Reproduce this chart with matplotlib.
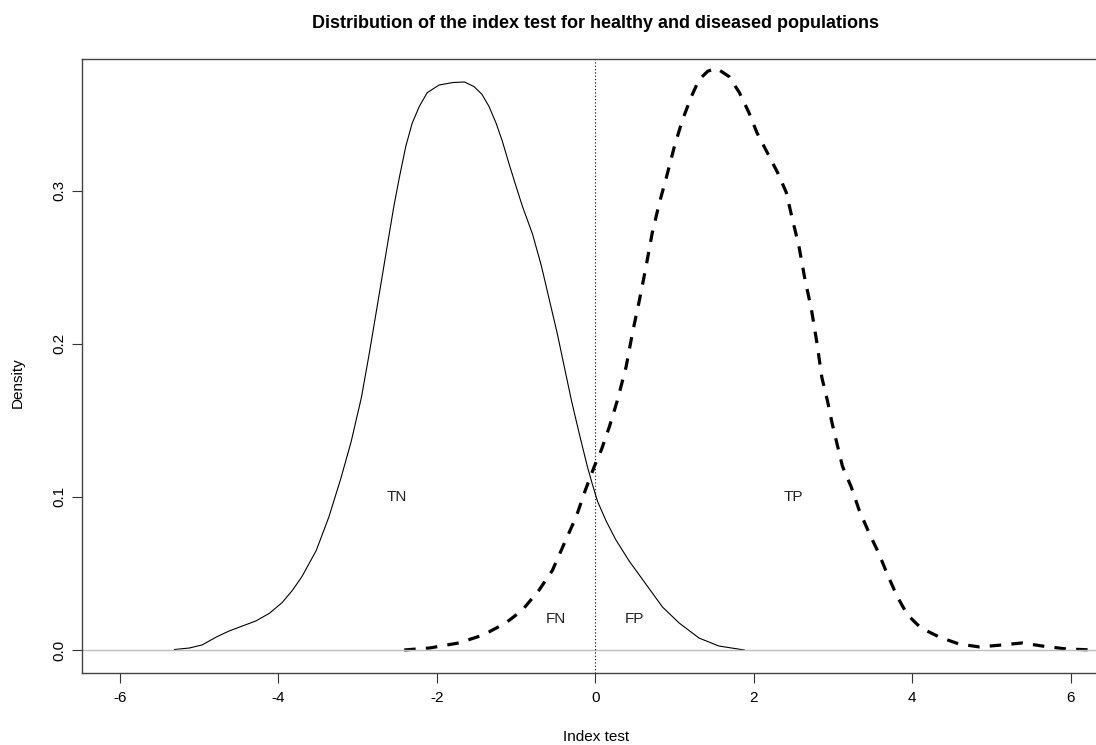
import matplotlib
matplotlib.use('Agg')
import matplotlib.pyplot as plt

plt.rcParams['font.family'] = ['Liberation Sans', 'DejaVu Sans']

# healthy population density (solid)
healthy_x = [-5.31, -5.12, -4.96, -4.78, -4.62, -4.45, -4.28, -4.11, -3.95, -3.82,
             -3.70, -3.52, -3.36, -3.21, -3.08, -2.95, -2.85, -2.73, -2.60, -2.54,
             -2.47, -2.39, -2.31, -2.22, -2.12, -1.97, -1.80, -1.65, -1.53, -1.43,
             -1.34, -1.25, -1.17, -1.09, -1.00, -0.92, -0.79, -0.68, -0.58, -0.48,
             -0.39, -0.30, -0.20, -0.10, -0.04, 0.03, 0.14, 0.26, 0.43, 0.64,
             0.85, 1.06, 1.31, 1.56, 1.88]
healthy_y = [0.0003, 0.0013, 0.0033, 0.0085, 0.0124, 0.0157, 0.019, 0.024, 0.031, 0.039,
             0.048, 0.065, 0.087, 0.112, 0.136, 0.165, 0.194, 0.231, 0.2715, 0.290,
             0.309, 0.329, 0.344, 0.355, 0.364, 0.369, 0.3706, 0.371, 0.368, 0.363,
             0.355, 0.344, 0.332, 0.318, 0.303, 0.290, 0.2715, 0.251, 0.229, 0.207,
             0.185, 0.163, 0.141, 0.120, 0.109, 0.097, 0.084, 0.072, 0.058, 0.043,
             0.028, 0.0176, 0.0078, 0.0026, 0.0]

# diseased population density (dashed)
diseased_x = [-2.41, -2.09, -1.72, -1.46, -1.34, -1.13, -0.92, -0.71, -0.54, -0.37,
              -0.24, -0.12, -0.01, 0.08, 0.18, 0.28, 0.39, 0.47, 0.56, 0.64,
              0.72, 0.81, 0.90, 1.00, 1.10, 1.21, 1.31, 1.42, 1.53, 1.69,
              1.82, 1.94, 2.04, 2.17, 2.30, 2.41, 2.49, 2.57, 2.64, 2.73,
              2.80, 2.86, 2.93, 2.99, 3.05, 3.12, 3.23, 3.33, 3.46, 3.58,
              3.69, 3.81, 3.94, 4.11, 4.34, 4.59, 4.85, 5.14, 5.39, 5.64,
              5.94, 6.23, 6.45]
diseased_y = [0.0, 0.0013, 0.0046, 0.009, 0.0118, 0.0176, 0.026, 0.039, 0.052, 0.072,
              0.087, 0.105, 0.120, 0.131, 0.146, 0.163, 0.185, 0.207, 0.229, 0.250,
              0.2725, 0.292, 0.309, 0.329, 0.346, 0.361, 0.3725, 0.378, 0.380, 0.3745,
              0.364, 0.351, 0.338, 0.325, 0.312, 0.299, 0.281, 0.264, 0.244, 0.222,
              0.200, 0.178, 0.163, 0.148, 0.135, 0.120, 0.1066, 0.0915, 0.076, 0.063,
              0.049, 0.035, 0.023, 0.0144, 0.0085, 0.0039, 0.002, 0.0033, 0.0046, 0.0026,
              0.0007, 0.0001, 0.0]

labels = ['TN', 'FN', 'FP', 'TP']
label_x = [-2.5, -0.5, 0.5, 2.5]
label_y = [0.1, 0.02, 0.02, 0.1]
cutoff = 0

fig = plt.figure(figsize=(10.96, 7.45), dpi=100)
ax = fig.add_axes([81.7 / 1096, 72.3 / 745, 1027 / 1096, 613.4 / 745])

ax.plot(healthy_x, healthy_y, color='black', lw=0.8)
ax.plot(diseased_x, diseased_y, color='black', lw=2.3, dashes=(3.6, 3.2),
        dash_capstyle='butt')
ax.axhline(0, color='#bebebe', lw=1)
ax.axvline(cutoff, color='black', lw=0.8, ls=(0, (1, 2)))

for t, x, y in zip(labels, label_x, label_y):
    ax.text(x, y, t, ha='center', va='center', fontsize=11, color='#222222')

ax.set_xlim(-6.48, 6.48)
ax.set_ylim(-0.01484, 0.3858)
ax.set_xticks([-6, -4, -2, 0, 2, 4, 6])
ax.set_xticklabels(['-6', '-4', '-2', '0', '2', '4', '6'])
ax.set_yticks([0.0, 0.1, 0.2, 0.3])
ax.set_yticklabels(['0.0', '0.1', '0.2', '0.3'], rotation=90, va='center')
ax.tick_params(axis='both', length=7, width=0.8, color='#333333', labelsize=11)
ax.tick_params(axis='x', pad=6)
ax.tick_params(axis='y', pad=4)
for s in ['left', 'bottom', 'top']:
    ax.spines[s].set_color('#444444')
    ax.spines[s].set_linewidth(1)
ax.spines['right'].set_visible(False)

fig.text(596 / 1096, 1 - 23 / 745, 'Distribution of the index test for healthy and diseased populations',
         ha='center', va='center', fontsize=13, fontweight='bold')
fig.text(596 / 1096, 1 - 737 / 745, 'Index test', ha='center', va='center', fontsize=11)
fig.text(18 / 1096, 1 - 383 / 745, 'Density', ha='center', va='center', fontsize=11, rotation=90)

fig.savefig('out.png', dpi=100)
